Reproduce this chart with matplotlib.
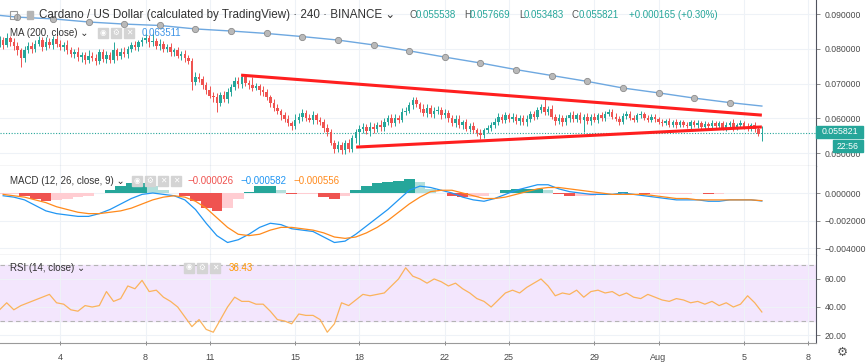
import matplotlib.pyplot as plt
from matplotlib.patches import Rectangle
from matplotlib.ticker import FuncFormatter
import numpy as np

plt.rcParams['font.family'] = ['Liberation Sans', 'DejaVu Sans']

# ---- price data: 4h candles, candle index k = 1..215 (6 per day, k = 6*day) ----
first_open = 0.0815
closes = [
    0.0825, 0.0812, 0.0830, 0.0818, 0.0808, 0.0795, 0.0772, 0.0795, 0.0808, 0.0800,
    0.0815, 0.0825, 0.0806, 0.0820, 0.0810, 0.0828, 0.0815, 0.0805, 0.0812, 0.0795,
    0.0785, 0.0792, 0.0775, 0.0782, 0.0768, 0.0780, 0.0772, 0.0765, 0.0790, 0.0770, 0.0782, 0.0768,
    0.0795, 0.0780, 0.0792, 0.0785, 0.0800, 0.0810, 0.0805, 0.0818, 0.0825, 0.0832,
    0.0818, 0.0822, 0.0808, 0.0815, 0.0800, 0.0805, 0.0790, 0.0795, 0.0780, 0.0785, 0.0772, 0.0765,
    0.0705, 0.0718, 0.0712, 0.0695, 0.0680, 0.0665,
    0.0660, 0.0645, 0.0668, 0.0655,
    0.0675, 0.0690, 0.0708, 0.0698, 0.0718,
    0.0702, 0.0695, 0.0688, 0.0692, 0.0680, 0.0675,
    0.0660, 0.0645, 0.0630, 0.0620, 0.0608,
    0.0598, 0.0585, 0.0578, 0.0595, 0.0605, 0.0615, 0.0602, 0.0596, 0.0608, 0.0594,
    0.0590, 0.0572, 0.0560, 0.0530, 0.0512, 0.0522, 0.0508,
    0.0528, 0.0512, 0.0542, 0.0560,
    0.0568, 0.0575, 0.0562, 0.0576, 0.0568, 0.0582, 0.0574,
    0.0590, 0.0600, 0.0585, 0.0602, 0.0596, 0.0618, 0.0622,
    0.0638, 0.0652, 0.0640,
    0.0628, 0.0615, 0.0630, 0.0612, 0.0620, 0.0625, 0.0608, 0.0615,
    0.0600, 0.0585, 0.0598, 0.0580, 0.0588, 0.0570, 0.0578, 0.0565,
    0.0558, 0.0552, 0.0565, 0.0572, 0.0580,
    0.0590, 0.0605, 0.0595, 0.0608, 0.0598, 0.0605, 0.0592, 0.0600, 0.0588,
    0.0598, 0.0612, 0.0605, 0.0625, 0.0632, 0.0618, 0.0628,
    0.0605, 0.0592, 0.0602, 0.0588, 0.0600,
    0.0610, 0.0598, 0.0608, 0.0595, 0.0605, 0.0592, 0.0604, 0.0596, 0.0608, 0.0600, 0.0612,
    0.0618, 0.0605, 0.0598, 0.0590, 0.0606, 0.0612, 0.0600, 0.0596, 0.0608, 0.0612,
    0.0600, 0.0596, 0.0605, 0.0598, 0.0590,
    0.0586, 0.0592, 0.0582, 0.0590, 0.0580, 0.0588, 0.0582, 0.0578, 0.0588, 0.0580, 0.0586,
    0.0576, 0.0584, 0.0578, 0.0586, 0.0577, 0.0585, 0.0572, 0.0580, 0.0585, 0.0572,
    0.0580, 0.0586, 0.0575, 0.0570, 0.0580, 0.0568, 0.055538, 0.055821,
]
# wick lengths above / below the body, in units of 0.0002
up_wick = [
    6, 5, 8, 4, 6, 5, 4, 7, 5, 6,  5, 6, 4, 7, 5, 4, 6, 5, 4, 6,
    5, 4, 6, 5, 4, 8, 5, 6, 4, 5,  6, 5, 12, 4, 5, 6, 4, 5, 6, 4,
    5, 6, 4, 12, 5, 6, 4, 5, 6, 4,  5, 4, 6, 5, 4, 8, 6, 5, 4, 6,
    5, 6, 4, 5, 6, 4, 5, 6, 3, 5,  4, 12, 5, 4, 6, 5, 4, 5, 6, 4,
    5, 6, 4, 8, 5, 6, 4, 5, 6, 4,  5, 4, 6, 5, 4, 6, 5, 4, 6, 5,
    4, 6, 5, 4, 6, 5, 4, 6, 5, 4,  6, 5, 4, 6, 5, 4, 5, 5, 4, 6,
    5, 4, 6, 5, 4, 6, 5, 4, 6, 5,  4, 5, 4, 5, 4, 5, 4, 5, 4, 6,
    5, 4, 5, 4, 5, 4, 5, 4, 5, 4,  5, 4, 5, 13, 4, 5, 4, 5, 4, 5,
    4, 5, 4, 5, 4, 5, 4, 5, 4, 5,  4, 5, 4, 5, 4, 5, 4, 5, 4, 3,
    4, 3, 4, 3, 4, 3, 4, 3, 4, 3,  4, 3, 4, 3, 4, 3, 4, 3, 4, 3,
    4, 3, 4, 3, 4, 3, 7, 3, 4, 3,  6, 3, 4, 3, 10,
]
lo_wick = [
    5, 6, 4, 5, 6, 7, 12, 5, 4, 6,  5, 4, 6, 5, 4, 6, 5, 4, 6, 5,
    4, 6, 5, 6, 6, 5, 4, 6, 5, 4,  6, 5, 4, 6, 5, 4, 6, 5, 4, 6,
    5, 4, 6, 5, 4, 6, 5, 4, 6, 5,  4, 6, 5, 4, 12, 5, 4, 6, 5, 4,
    6, 13, 5, 4, 6, 5, 4, 6, 5, 4,  6, 5, 4, 6, 5, 4, 6, 5, 4, 6,
    5, 4, 6, 5, 4, 6, 5, 4, 6, 5,  4, 6, 5, 4, 6, 5, 5, 6, 5, 4,
    6, 18, 5, 4, 6, 5, 4, 6, 5, 4,  5, 4, 5, 4, 5, 4, 5, 4, 5, 4,
    5, 4, 5, 4, 5, 4, 5, 4, 5, 4,  5, 4, 5, 4, 5, 6, 5, 4, 5, 4,
    5, 4, 5, 4, 5, 4, 5, 4, 5, 4,  5, 4, 5, 4, 5, 4, 5, 4, 5, 4,
    5, 4, 5, 4, 17, 4, 5, 4, 5, 4,  4, 3, 4, 3, 4, 3, 4, 3, 4, 3,
    4, 3, 4, 3, 4, 3, 4, 3, 4, 3,  4, 3, 4, 3, 4, 3, 4, 3, 4, 3,
    4, 3, 4, 3, 4, 3, 4, 3, 4, 3,  4, 3, 4, 3, 10,
]

# MA(200) read at the marker candles
ma_k = [1, 6, 16, 26, 36, 46, 56, 66, 76, 86, 96, 106, 116, 126, 136, 146, 156,
        166, 176, 186, 196, 206, 215]
ma_val = [0.0896, 0.0891, 0.0886, 0.0877, 0.0871, 0.0867, 0.0857, 0.0851, 0.0844,
          0.0835, 0.0825, 0.0811, 0.0794, 0.0776, 0.0759, 0.0740, 0.0723, 0.0706,
          0.0687, 0.0673, 0.0658, 0.0645, 0.063511]

# hand-drawn triangle lines
tri_up_k, tri_up_p = [68.8, 215], [0.0724, 0.0609]
tri_lo_k, tri_lo_p = [101.1, 215], [0.0517, 0.0575]

last_price = 0.055821

# ---- MACD (every 3rd candle, k = 2, 5, ..., 215), units of 0.001 ----
macd_line = [
    -0.2, -0.3, -0.5, -0.9, -1.3, -1.5, -1.6, -1.7, -1.7, -1.5, -1.2, -0.8,
    -0.4, -0.1, 0.0, -0.1, -0.2, -0.5, -1.2, -2.2, -3.1, -3.6, -3.4, -3.0,
    -2.5, -2.2, -2.3, -2.6, -2.7, -2.8, -3.2, -3.6, -3.5, -3.0, -2.4, -1.8,
    -1.2, -0.5, 0.2, 0.5, 0.4, 0.2, 0.0, -0.3, -0.5, -0.6, -0.4, -0.1,
    0.2, 0.4, 0.6, 0.6, 0.3, 0.1, 0.0, -0.1, -0.1, -0.1, 0.0, -0.1,
    -0.2, -0.3, -0.4, -0.5, -0.5, -0.5, -0.6, -0.6, -0.5, -0.5, -0.5, -0.582,
]
signal_line = [
    -0.1, -0.2, -0.3, -0.5, -0.7, -1.0, -1.2, -1.4, -1.5, -1.5, -1.4, -1.3,
    -1.1, -0.8, -0.5, -0.3, -0.2, -0.3, -0.6, -1.1, -1.8, -2.5, -3.0, -3.1,
    -3.0, -2.7, -2.5, -2.5, -2.6, -2.7, -2.9, -3.2, -3.3, -3.2, -2.9, -2.5,
    -2.0, -1.4, -0.8, -0.3, 0.1, 0.2, 0.2, 0.0, -0.2, -0.4, -0.4, -0.3,
    -0.1, 0.1, 0.3, 0.4, 0.4, 0.3, 0.2, 0.1, 0.0, -0.1, -0.1, -0.1,
    -0.1, -0.2, -0.3, -0.4, -0.4, -0.5, -0.5, -0.5, -0.5, -0.5, -0.5, -0.556,
]
macd_hist = [
    -0.1, -0.1, -0.2, -0.4, -0.6, -0.5, -0.4, -0.3, -0.2, 0.0, 0.2, 0.5,
    0.7, 0.7, 0.5, 0.2, 0.0, -0.2, -0.6, -1.1, -1.3, -1.1, -0.4, 0.1,
    0.5, 0.5, 0.2, -0.1, -0.1, -0.1, -0.3, -0.4, -0.2, 0.2, 0.5, 0.7,
    0.8, 0.9, 1.0, 0.8, 0.3, 0.0, -0.2, -0.3, -0.3, -0.2, 0.0, 0.2,
    0.3, 0.3, 0.3, 0.2, -0.1, -0.2, -0.2, -0.2, -0.1, 0.0, 0.1, 0.0,
    -0.1, -0.1, -0.1, -0.1, -0.1, 0.0, -0.1, -0.1, 0.0, 0.0, 0.0, -0.026,
]

# ---- RSI(14) every 2nd candle, k = 1, 3, ..., 215 ----
rsi_vals = [
    38, 43, 38, 41, 43, 45, 47, 49, 43, 42, 38, 37, 41, 40, 41, 51, 44, 46,
    55, 53, 59, 51, 52, 47, 44, 40, 33, 26, 31, 24, 22, 31, 40, 47, 44, 44,
    42, 42, 37, 31, 30, 28, 35, 34, 34, 31, 22, 28, 43, 41, 45, 49, 48, 49,
    50, 55, 60, 68, 62, 60, 57, 60, 58, 55, 57, 53, 50, 46, 44, 40, 45, 50,
    52, 50, 54, 57, 60, 55, 48, 50, 49, 52, 47, 51, 52, 50, 51, 48, 50, 47,
    46, 49, 47, 45, 44, 46, 45, 43, 44, 42, 44, 41, 43, 40, 42, 48, 43, 36.43,
]

# x axis: day d of the chart -> candle k = 6*d
tick_k = [18, 42, 60, 84, 102, 126, 144, 168, 186, 210, 228]
tick_labels = ['4', '8', '11', '15', '18', '22', '25', '29', 'Aug', '5', '8']

UP, DOWN = '#26a69a', '#ef5350'
GRID = '#eef2f7'
TXT = '#4a4a4a'

W, H = 868, 363
fig = plt.figure(figsize=(W / 100, H / 100), dpi=100)


def fx(x):
    return x / W


def fy(y):
    return 1 - y / H


ax = fig.add_axes([0, fy(166), fx(816), 166 / H])
ax_m = fig.add_axes([0, fy(255), fx(816), 89 / H], sharex=ax)
ax_r = fig.add_axes([0, fy(343), fx(816), 88 / H], sharex=ax)

for a in (ax, ax_m, ax_r):
    a.set_facecolor('white')
    for s in ('top', 'left'):
        a.spines[s].set_visible(False)
    a.spines['right'].set_color('#50535e')
    a.spines['bottom'].set_color('#50535e')
    a.yaxis.tick_right()
    a.tick_params(axis='y', length=3, width=0.6, color='#7a7a7a', pad=3,
                  labelsize=6.2, labelcolor=TXT)
    a.set_xticks(tick_k)
    a.grid(True, color=GRID, lw=0.8)
    a.set_axisbelow(True)
ax_r.spines['bottom'].set_color('#9a9a9a')
for a in (ax, ax_m):
    a.tick_params(axis='x', length=0, labelbottom=False)
ax_r.set_xticklabels(tick_labels)
ax_r.tick_params(axis='x', length=3, width=0.6, color='#7a7a7a', pad=6,
                 labelsize=6.5, labelcolor=TXT, direction='inout')
ax.set_xlim(1.12, 230.2)

# ---- candles ----
k = np.arange(1, len(closes) + 1)
c = np.array(closes)
o = np.r_[first_open, c[:-1]]
hi = np.maximum(o, c) + np.array(up_wick) * 2e-4
lo = np.minimum(o, c) - np.array(lo_wick) * 2e-4
col = np.where(c >= o, UP, DOWN)
ax.vlines(k, lo, hi, colors=col, lw=0.7, zorder=2)
ax.bar(k, np.maximum(np.abs(c - o), 0.00012), bottom=np.minimum(o, c),
       width=0.7, color=col, zorder=3)

ax.plot(ma_k, ma_val, color='#6ea8e0', lw=1.0, zorder=4)
ax.plot(ma_k[1:-1], ma_val[1:-1], 'o', ms=4.5, mfc='#b9b9b9', mec='#8c8c8c',
        mew=0.6, zorder=5)
ax.plot(tri_up_k, tri_up_p, color='#ff1f1f', lw=2.2, zorder=6, solid_capstyle='butt')
ax.plot(tri_lo_k, tri_lo_p, color='#ff1f1f', lw=2.2, zorder=6, solid_capstyle='butt')
ax.axhline(last_price, color='#26a69a', lw=0.8, ls=(0, (1, 1.5)), zorder=1)

ax.set_ylim(0.046259, 0.094029)
ax.set_yticks([0.05, 0.06, 0.07, 0.08, 0.09])
ax.yaxis.set_major_formatter(FuncFormatter(lambda v, p: f'{v:.6f}'))

# ---- MACD ----
mk = np.arange(2, 216, 3)
mh = np.array(macd_hist) * 1e-3
prev = np.r_[mh[0], mh[:-1]]
hcol = [('#26a69a' if v >= p else '#b2dfdb') if v >= 0 else
        ('#ef5350' if v < p else '#ffcdd2') for v, p in zip(mh, prev)]
ax_m.bar(mk, mh, width=3.0, color=hcol, zorder=2)
ax_m.plot(mk, np.array(macd_line) * 1e-3, color='#2196f3', lw=0.9, zorder=3)
ax_m.plot(mk, np.array(signal_line) * 1e-3, color='#ff8a1c', lw=0.9, zorder=4)
ax_m.set_ylim(-0.004509, 0.001964)
ax_m.set_yticks([-0.004, -0.002, 0.0])
ax_m.yaxis.set_major_formatter(
    FuncFormatter(lambda v, p: f'{v:.6f}'.replace('-', '\u2212')))

# ---- RSI ----
rk = np.arange(1, 216, 2)
ax_r.axhspan(30, 70, color='#f3e6fd', zorder=0)
ax_r.axhline(70, color='#b4b4b4', lw=0.8, ls=(0, (4, 3)), zorder=1)
ax_r.axhline(30, color='#b4b4b4', lw=0.8, ls=(0, (4, 3)), zorder=1)
ax_r.plot(rk, rsi_vals, color='#fbb35c', lw=0.9, zorder=3)
ax_r.set_ylim(14.3, 77.1)
ax_r.set_yticks([20, 40, 60])
ax_r.yaxis.set_major_formatter(FuncFormatter(lambda v, p: f'{v:.2f}'))

# ---- right side price labels ----
fig.add_artist(Rectangle((fx(816), fy(138)), 47 / W, 12 / H, color='#26a69a',
                         transform=fig.transFigure))
fig.text(fx(840), fy(132), '0.055821', color='white', fontsize=6.3,
         ha='center', va='center')
fig.add_artist(Rectangle((fx(833), fy(152)), 30 / W, 12 / H, color='#26a69a',
                         transform=fig.transFigure))
fig.text(fx(848), fy(146), '22:56', color='white', fontsize=6.3,
         ha='center', va='center')
fig.text(fx(842), fy(353), '\u2699', color='#555555', fontsize=9,
         ha='center', va='center')

# ---- header texts ----
fig.add_artist(Rectangle((fx(10), fy(19)), 7 / W, 8 / H, fill=False,
                         ec='#9a9a9a', lw=0.8, transform=fig.transFigure))
fig.add_artist(Rectangle((fx(27), fy(19)), 6 / W, 8 / H, color='#b5b5b5',
                         transform=fig.transFigure))
fig.text(fx(39), fy(15), 'Cardano / US Dollar (calculated by TradingView) \u00b7 240 \u00b7 BINANCE \u2304',
         fontsize=8.4, color='#333333', ha='left', va='center')
ohlc = [('O', 410, '0.055538', 416), ('H', 464, '0.057669', 470),
        ('L', 519, '0.053483', 524), ('C', 572, '0.055821', 579)]
for lab, lx, val, vx in ohlc:
    fig.text(fx(lx), fy(15), lab, fontsize=7, color='#555555', va='center')
    fig.text(fx(vx), fy(15), val, fontsize=7, color='#26a69a', va='center')
fig.text(fx(629), fy(15), '+0.000165 (+0.30%)', fontsize=7, color='#26a69a',
         va='center')


def icons(x0, y, n):
    glyphs = ['\u25c9', '\u2699', '\u2715', '\u2715']
    for i in range(n):
        x = x0 + i * 13
        fig.add_artist(Rectangle((fx(x), fy(y + 5)), 10 / W, 10 / H,
                                 color='#d4d4d4', transform=fig.transFigure))
        g = glyphs[i] if i < n - 1 else '\u2715'
        fig.text(fx(x + 5), fy(y), g, fontsize=5.5, color='white',
                 ha='center', va='center')


fig.text(fx(10), fy(33), 'MA (200, close) \u2304', fontsize=7, color='#333333',
         va='center')
icons(98, 33, 3)
fig.text(fx(142), fy(33), '0.063511', fontsize=7, color='#3d94e6', va='center')

fig.text(fx(10), fy(181), 'MACD (12, 26, close, 9) \u2304', fontsize=7,
         color='#333333', va='center')
icons(132, 181, 4)
fig.text(fx(187), fy(181), '\u22120.000026', fontsize=7, color='#ef5350', va='center')
fig.text(fx(240), fy(181), '\u22120.000582', fontsize=7, color='#2196f3', va='center')
fig.text(fx(293), fy(181), '\u22120.000556', fontsize=7, color='#ff8a1c', va='center')

fig.text(fx(10), fy(268), 'RSI (14, close) \u2304', fontsize=7, color='#333333',
         va='center')
icons(184, 268, 3)
fig.text(fx(229), fy(268), '36.43', fontsize=7, color='#ff9800', va='center')

fig.savefig('out.png', dpi=100)
